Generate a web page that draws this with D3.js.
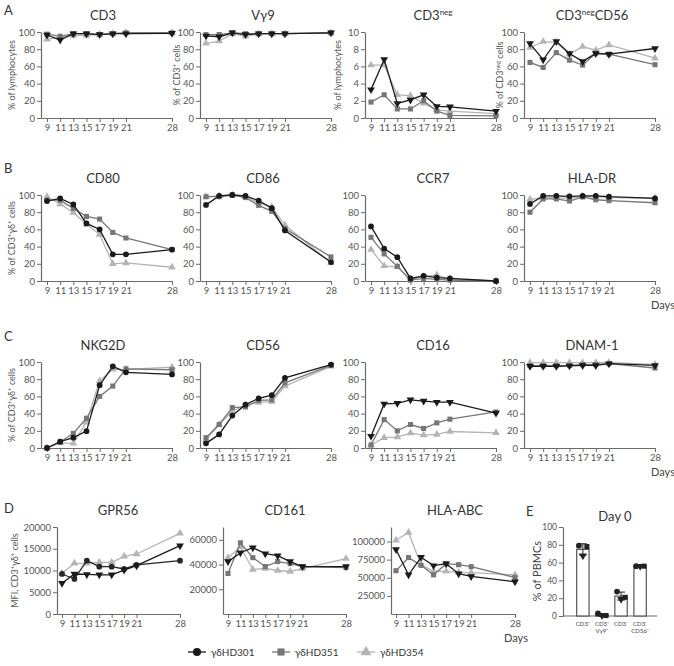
<!DOCTYPE html>
<html>
<head>
<meta charset="utf-8">
<script src="https://cdn.jsdelivr.net/npm/d3@7"></script>
<style>
body { margin: 0; background: #fff; }
text { font-family: Lato, "Open Sans", sans-serif; }
</style>
</head>
<body>
<svg id="fig" width="674" height="666"></svg>
<script>
// days of culture and donors
var days = [9, 11, 13, 15, 17, 19, 21, 28];
var donors = ["γδHD301", "γδHD351", "γδHD354"];

// each panel: one row per donor (HD301, HD351, HD354)
var cd3 = [[96.5, 90.7, 98, 98, 97, 98, 98, 98.5], [97.5, 95, 98, 98, 97, 98, 99, 99], [91.5, 94, 96, 96, 97, 98, 99, 99]];
var vg9 = [[95.5, 94.5, 99, 97, 98, 98, 98, 99], [97, 97, 99, 98, 98, 98, 98, 99], [86.8, 89.5, 98, 95, 98, 98, 98, 99]];
var cd3neg = [[3.3, 6.8, 1.7, 2.1, 2.7, 1.35, 1.3, 0.8], [1.85, 2.7, 1.05, 1.05, 2.0, 0.8, 0.3, 0.25], [6.15, 6.15, 2.7, 2.6, 1.7, 0.95, 0.8, 0.5]];
var cd3negCd56 = [[86.5, 67.7, 89, 75, 65.8, 75, 74.2, 80.8], [64.6, 58.8, 76, 67.3, 61.5, 75.4, 74.2, 62], [82, 88.8, 88, 74.2, 83, 78.8, 85, 69.6]];

var cd80 = [[93, 96, 89, 67, 60, 31, 31, 36.5], [94, 94, 84.5, 75, 72, 56.5, 50, 36.5], [98, 89.6, 79.6, 66, 54, 20, 21, 16]];
var cd86 = [[88.5, 99, 100, 99, 93.5, 84.6, 58.8, 22], [98, 98, 100, 97, 88, 81, 61, 28], [98, 99, 100, 98, 91, 86, 65, 21]];
var ccr7 = [[63.5, 37.7, 27.7, 3, 6, 4, 3, 0], [50.8, 31.5, 17, 1, 3, 2, 1, 0], [36.5, 17.6, 16.5, 2, 5, 7, 2, 0]];
var hladr = [[89.6, 99, 99, 98.5, 99, 99, 98, 96], [80, 95.4, 95.4, 93, 97.7, 94.5, 93.5, 91], [95, 97, 97, 96, 98.5, 98, 97, 96.5]];

var nkg2d = [[0, 7.3, 12, 19.6, 73, 95, 88, 85.5], [0, 7, 17, 34.6, 60, 72, 92, 91], [0, 6, 5.4, 30, 78, 91.5, 91.5, 94]];
var cd56 = [[5.4, 15.8, 37.7, 50.4, 57.7, 61.5, 81.5, 97], [12, 27.3, 47, 47.7, 55.4, 56, 75.8, 96], [10, 27, 43, 50, 53, 54, 72, 95]];
var cd16 = [[13.8, 51.3, 52, 56, 54.6, 53.3, 53.3, 40.6], [3.4, 33, 20, 27.3, 22.7, 29.2, 33.5, 41.9], [3.5, 12, 12.7, 17.3, 15, 15.8, 19.2, 17.7]];
var dnam1 = [[95, 95, 95, 95.5, 96, 96, 98, 96], [95.8, 95.8, 95.8, 96, 97, 97, 98, 93], [99.2, 99.2, 99.2, 99.2, 99.2, 99.2, 99.2, 97.3]];

// MFI
var gpr56 = [[7060, 9200, 9100, 9000, 9000, 10100, 11100, 15700], [9200, 8050, 12260, 10880, 10880, 10350, 11270, 12260], [9350, 11650, 11650, 11880, 11880, 13260, 13800, 18550]];
var cd161 = [[42400, 49600, 53600, 48800, 47200, 42400, 38400, 38400], [32800, 57600, 45600, 38400, 42400, 40800, 38400, 37600], [45600, 54400, 36000, 36800, 35200, 34400, 36800, 44800]];
var hlaabc = [[88900, 54000, 78200, 66700, 69400, 55600, 51800, 44400], [59700, 77800, 67100, 54000, 69400, 68000, 65300, 50400], [101800, 112500, 68000, 58800, 58800, 57400, 57000, 54000]];

// day 0 (E)
var day0Cats = ["CD3+", "CD3+Vg9+", "CD3-", "CD3-CD56+"];
var day0Points = [[79, 78, 67.7], [3, 0.5, 0.5], [27.4, 21, 18.8], [56, 56, 56]];

var pctTicks = [0, 20, 40, 60, 80, 100];

var svg = d3.select("#fig");
var colors = ["#1a1a1a", "#767676", "#b4b4b4"];

function marker(type) {
    if (type === "circle") return d3.symbol().type(d3.symbolCircle).size(26)();
    if (type === "square") return d3.symbol().type(d3.symbolSquare).size(26)();
    return d3.symbol().type(d3.symbolTriangle).size(26)();
}

function styleAxis(ax) {
    ax.select(".domain").attr("stroke", "#6a6a6a").attr("stroke-width", 1.2);
    ax.selectAll(".tick line").attr("stroke", "#6a6a6a").attr("stroke-width", 1);
    ax.selectAll(".tick text").attr("fill", "#555").style("font-size", "9.5px");
}

function panel(o) {
    var step = o.w / 19;
    var x = d3.scaleLinear().domain([9 - o.off / step, 28]).range([o.x0, o.x0 + o.off + o.w]);
    var y = d3.scaleLinear().domain([0, o.yMax]).range([o.bottom, o.top]);

    var xa = svg.append("g")
        .attr("transform", `translate(0,${o.bottom})`)
        .call(d3.axisBottom(x).tickValues(days).tickSize(4).tickSizeOuter(0).tickPadding(2));
    styleAxis(xa);

    var ya = svg.append("g")
        .attr("transform", `translate(${o.x0},0)`)
        .call(d3.axisLeft(y).tickValues(o.yTicks).tickSize(4).tickSizeOuter(0).tickPadding(2).tickFormat(d3.format("d")));
    styleAxis(ya);

    var shapes = o.shapes || ["tridown", "square", "triangle"];
    var cols = o.colors || colors;
    var line = d3.line().x((d, i) => x(days[i])).y(d => y(d));

    // light series first so black ends on top
    for (var s = 2; s >= 0; s--) {
        svg.append("path")
            .datum(o.data[s])
            .attr("d", line)
            .attr("fill", "none")
            .attr("stroke", cols[s])
            .attr("stroke-width", 1.3);
        svg.append("g").selectAll("path")
            .data(o.data[s])
            .enter()
            .append("path")
            .attr("d", marker(shapes[s]))
            .attr("transform", (d, i) => `translate(${x(days[i])},${y(d)})` + (shapes[s] === "tridown" ? " rotate(180)" : ""))
            .attr("fill", cols[s]);
    }

    var t = svg.append("text")
        .attr("x", o.titleX)
        .attr("y", o.top - 12)
        .attr("text-anchor", "middle")
        .style("font-size", "13px")
        .attr("fill", "#333")
        .text(o.title);
    if (o.sup) {
        t.append("tspan").attr("dy", -5).style("font-size", "8px").text(o.sup);
        if (o.after) t.append("tspan").attr("dy", 5).text(o.after);
    }

    if (o.ylabel) {
        svg.append("text")
            .attr("transform", `translate(${o.ylabelX},${(o.top + o.bottom) / 2}) rotate(-90)`)
            .attr("text-anchor", "middle")
            .style("font-size", "9px")
            .attr("fill", "#555")
            .html(o.ylabel);
    }
    if (o.days) {
        svg.append("text")
            .attr("x", o.daysX)
            .attr("y", o.bottom + 28)
            .style("font-size", "11px")
            .attr("fill", "#444")
            .text("Days");
    }
}

// panel letters
[["A", 4, 15], ["B", 4, 173], ["C", 4, 341], ["D", 4, 513], ["E", 526, 516]].forEach(function (p) {
    svg.append("text").attr("x", p[1]).attr("y", p[2]).style("font-size", "13px").attr("fill", "#333").text(p[0]);
});

var colX = [41, 200, 365, 524];
var colT = [103, 263, 433, 592];

// row A
var rowA = { top: 32, bottom: 118, w: 125, off: 6 };
panel(Object.assign({}, rowA, { x0: colX[0], titleX: colT[0], title: "CD3", data: cd3, yMax: 100, yTicks: pctTicks, ylabel: "% of lymphocytes", ylabelX: 15 }));
panel(Object.assign({}, rowA, { x0: colX[1], titleX: colT[1], title: "Vγ9", data: vg9, yMax: 100, yTicks: pctTicks, ylabel: "% of CD3<tspan dy='-3' font-size='6px'>+</tspan><tspan dy='3'> cells</tspan>", ylabelX: 180 }));
panel(Object.assign({}, rowA, { x0: colX[2], titleX: colT[2], title: "CD3", sup: "neg", data: cd3neg, yMax: 10, yTicks: [0, 2, 4, 6, 8, 10], ylabel: "% of lymphocytes", ylabelX: 341 }));
panel(Object.assign({}, rowA, { x0: colX[3], titleX: colT[3], title: "CD3", sup: "neg", after: "CD56", data: cd3negCd56, yMax: 100, yTicks: pctTicks, ylabel: "% of CD3<tspan dy='-3' font-size='6px'>neg</tspan><tspan dy='3'> cells</tspan>", ylabelX: 503 }));

var gdLabel = "% of CD3<tspan dy='-3' font-size='6px'>+</tspan><tspan dy='3'>γδ</tspan><tspan dy='-3' font-size='6px'>+</tspan><tspan dy='3'> cells</tspan>";

// row B
var rowB = { top: 195, bottom: 281, w: 125, off: 6, yMax: 100, yTicks: pctTicks };
var circ = ["circle", "square", "triangle"];
panel(Object.assign({}, rowB, { x0: colX[0], titleX: colT[0], title: "CD80", data: cd80, shapes: circ, ylabel: gdLabel, ylabelX: 15 }));
panel(Object.assign({}, rowB, { x0: colX[1], titleX: colT[1], title: "CD86", data: cd86, shapes: circ }));
panel(Object.assign({}, rowB, { x0: colX[2], titleX: colT[2], title: "CCR7", data: ccr7, shapes: circ }));
panel(Object.assign({}, rowB, { x0: colX[3], titleX: colT[3], title: "HLA-DR", data: hladr, shapes: circ, days: true, daysX: 651 }));

// row C
var rowC = { top: 362, bottom: 448, w: 125, off: 6, yMax: 100, yTicks: pctTicks };
panel(Object.assign({}, rowC, { x0: colX[0], titleX: colT[0], title: "NKG2D", data: nkg2d, shapes: circ, ylabel: gdLabel, ylabelX: 15 }));
panel(Object.assign({}, rowC, { x0: colX[1], titleX: colT[1], title: "CD56", data: cd56, shapes: circ }));
panel(Object.assign({}, rowC, { x0: colX[2], titleX: colT[2], title: "CD16", data: cd16 }));
panel(Object.assign({}, rowC, { x0: colX[3], titleX: colT[3], title: "DNAM-1", data: dnam1, days: true, daysX: 651 }));

// row D
var rowD = { top: 527, bottom: 614, w: 118, off: 5 };
panel(Object.assign({}, rowD, { x0: 57, titleX: 118, title: "GPR56", data: gpr56, yMax: 20000, yTicks: [0, 5000, 10000, 15000, 20000], shapes: ["tridown", "circle", "triangle"], colors: ["#1a1a1a", "#262626", "#b4b4b4"], ylabel: "MFI, CD3<tspan dy='-3' font-size='6px'>+</tspan><tspan dy='3'>γδ</tspan><tspan dy='-3' font-size='6px'>+</tspan><tspan dy='3'> cells</tspan>", ylabelX: 18 }));
panel(Object.assign({}, rowD, { x0: 223, titleX: 285, title: "CD161", data: cd161, yMax: 70400, yTicks: [20000, 40000, 60000] }));
panel(Object.assign({}, rowD, { x0: 391, titleX: 455, title: "HLA-ABC", data: hlaabc, yMax: 120000, yTicks: [25000, 50000, 75000, 100000], w: 119, days: true, daysX: 504 }));

// E: day 0 bars
var ex = d3.scaleBand().domain(day0Cats).range([570, 653]).padding(0.35);
var ey = d3.scaleLinear().domain([0, 100]).range([616, 527]);
var eya = svg.append("g").attr("transform", "translate(563,0)")
    .call(d3.axisLeft(ey).tickValues(pctTicks).tickSize(4).tickSizeOuter(0).tickPadding(2));
styleAxis(eya);
eya.selectAll(".tick text").style("font-size", "8.5px");
svg.append("line").attr("x1", 563).attr("x2", 657).attr("y1", ey(0)).attr("y2", ey(0))
    .attr("stroke", "#6a6a6a").attr("stroke-width", 1.2);

day0Cats.forEach(function (c, i) {
    var pts = day0Points[i];
    var m = d3.mean(pts), sd = d3.deviation(pts) || 0;
    var cx = ex(c) + ex.bandwidth() / 2;
    svg.append("rect").attr("x", ex(c)).attr("width", ex.bandwidth())
        .attr("y", ey(m)).attr("height", ey(0) - ey(m))
        .attr("fill", "#fff").attr("stroke", "#555").attr("stroke-width", 1.2);
    if (sd > 0) {
        svg.append("line").attr("x1", cx).attr("x2", cx).attr("y1", ey(m - sd)).attr("y2", ey(m + sd)).attr("stroke", "#222");
        [m - sd, m + sd].forEach(function (v) {
            svg.append("line").attr("x1", cx - 4).attr("x2", cx + 4).attr("y1", ey(v)).attr("y2", ey(v)).attr("stroke", "#222");
        });
    }
    var offs = [-4, 4, 0], shp = ["circle", "square", "tridown"];
    pts.forEach(function (v, k) {
        svg.append("path").attr("d", marker(shp[k]))
            .attr("transform", `translate(${cx + offs[k]},${ey(v)})` + (shp[k] === "tridown" ? " rotate(180)" : ""))
            .attr("fill", "#222");
    });
});

var catLines = [["CD3⁺"], ["CD3⁺", "Vγ9⁺"], ["CD3⁻"], ["CD3⁻", "CD56⁺"]];
day0Cats.forEach(function (c, i) {
    catLines[i].forEach(function (s, k) {
        svg.append("text").attr("x", ex(c) + ex.bandwidth() / 2).attr("y", 626 + k * 7)
            .attr("text-anchor", "middle").style("font-size", "6px").attr("fill", "#444").text(s);
    });
});

svg.append("text").attr("x", 615).attr("y", 521).attr("text-anchor", "middle")
    .style("font-size", "13px").attr("fill", "#333").text("Day 0");
svg.append("text").attr("transform", "translate(541,571) rotate(-90)").attr("text-anchor", "middle")
    .style("font-size", "11px").attr("fill", "#444").text("% of PBMCs");

// legend
var legX = [188, 272, 357];
var legShapes = ["circle", "square", "triangle"];
donors.forEach(function (d, i) {
    var g = svg.append("g").attr("transform", `translate(${legX[i]},652)`);
    g.append("line").attr("x1", 0).attr("x2", 18).attr("stroke", colors[i]).attr("stroke-width", 1.3);
    g.append("path").attr("d", marker(legShapes[i])).attr("transform", "translate(9,0) scale(1.4)").attr("fill", colors[i]);
    g.append("text").attr("x", 23).attr("y", 4).style("font-size", "10px").attr("fill", "#333").text(d);
});
</script>
</body>
</html>
